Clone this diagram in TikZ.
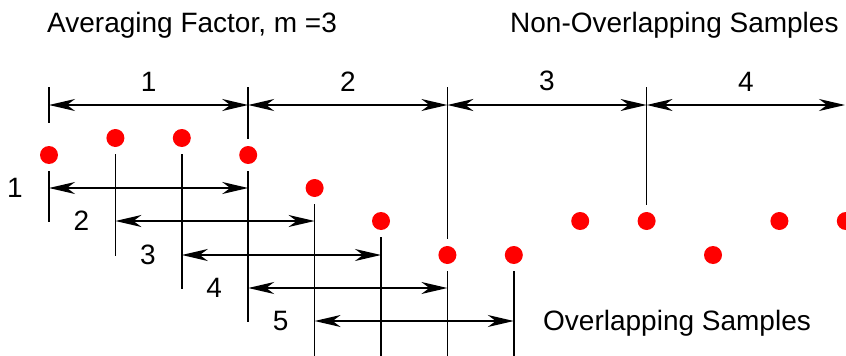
\documentclass[tikz,border=0pt]{standalone}
\usepackage{fontspec}
\setmainfont{Liberation Sans}
\usetikzlibrary{arrows.meta,positioning}
\definecolor{sampled}{HTML}{FF0000}
\tikzset{
  sample/.style={circle, fill=sampled, inner sep=0pt, minimum size=18pt},
  bar/.style={line width=1.6pt, black},
  tip/.style={line width=1.6pt, black, {Stealth[length=26pt,width=12pt,inset=8pt]}-{Stealth[length=26pt,width=12pt,inset=8pt]}},
  num/.style={font=\fontsize{28}{32}\selectfont, inner sep=0pt},
  caption/.style={font=\fontsize{28}{32}\selectfont, inner sep=0pt, anchor=base west},
}

\begin{document}
\begin{tikzpicture}[x=1pt, y=-1pt]
  \useasboundingbox (0,0) rectangle (846,356);
  \coordinate (top) at (0,87);
  \coordinate (nov) at (0,105);
  \coordinate (rim) at (845,105);

  % Samples
  \foreach \k/\y in {0/155,1/138,2/138,3/155,4/188,5/221,6/255,7/255,8/221,9/221,10/255,11/221,12/221} {
    \node[sample] (s\k) at ({49+66.4*\k},\y) {};
  }

  % Non-overlapping blocks
  \draw[bar] (s0 |- top) -- (s0 |- 0,123);
  \foreach \k in {3,6,9} {
    \draw[bar] (s\k |- top) -- ([yshift=7pt]s\k.north);
  }
  \draw[tip] (s0 |- nov) -- (s3 |- nov) node[num, midway, above=13pt] (n1) {1};
  \draw[tip] (s3 |- nov) -- (s6 |- nov) node[num, midway, above=13pt] (n2) {2};
  \draw[tip] (s6 |- nov) -- (s9 |- nov) node[num, midway, above=13pt] (n3) {3};
  \draw[tip] (s9 |- nov) -- (rim) node[num, midway, above=13pt] (n4) {4};

  % Overlapping blocks
  \foreach \k/\e in {0/222,1/256,2/289,3/322,4/356,5/356,6/356,7/356} {
    \draw[bar] ([yshift=-7pt]s\k.south) -- (s\k |- 0,\e);
  }
  \foreach \i/\a/\b/\y in {1/0/3/188, 2/1/4/221, 3/2/5/255, 4/3/6/288, 5/4/7/321} {
    \coordinate (row\i) at (0,\y);
    \draw[tip] (s\a |- row\i) -- (s\b |- row\i);
    \path (s\a |- row\i) ++(-34,0) node[num] (ov\i) {\i};
  }

  % Captions
  \node[caption] (factor) at (47,32) {Averaging Factor, m =3};
  \node[caption] (nonov) at (510,32) {Non-Overlapping Samples};
  \node[caption] (overl) at (543,330) {Overlapping Samples};
\end{tikzpicture}
\end{document}
